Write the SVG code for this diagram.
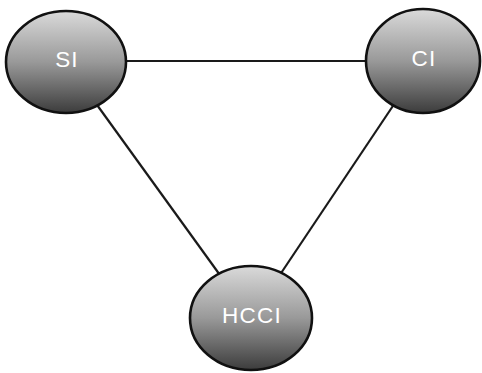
<svg xmlns="http://www.w3.org/2000/svg" width="482" height="373" viewBox="0 0 482 373">
  <style>
    .edge { stroke: #1a1a1a; stroke-width: 2.2; fill: none; }
    .node ellipse { fill: url(#shade); stroke: #111; stroke-width: 2.6; }
    .node text { font-family: "Liberation Sans", Arial, sans-serif; font-size: 22.5px; letter-spacing: 1.2px; fill: #ffffff; text-anchor: middle; dominant-baseline: central; }
  </style>
  <defs>
    <linearGradient id="shade" x1="0" y1="0" x2="0" y2="1">
      <stop offset="0" stop-color="#dadada"/>
      <stop offset="0.5" stop-color="#999999"/>
      <stop offset="1" stop-color="#3c3c3c"/>
    </linearGradient>
  </defs>
  <rect width="482" height="373" fill="#ffffff"/>
  <g id="connectors">
    <line class="edge" x1="66" y1="61" x2="423" y2="61"/>
    <line class="edge" x1="66" y1="62" x2="251" y2="318"/>
    <line class="edge" x1="423" y1="61" x2="251" y2="318"/>
  </g>
  <g id="node-si" class="node">
    <ellipse cx="66" cy="62" rx="60" ry="51"/>
    <text x="67" y="59">SI</text>
  </g>
  <g id="node-ci" class="node">
    <ellipse cx="423" cy="61" rx="57" ry="52"/>
    <text x="424" y="58">CI</text>
  </g>
  <g id="node-hcci" class="node">
    <ellipse cx="251" cy="318" rx="61" ry="52"/>
    <text x="252" y="315">HCCI</text>
  </g>
</svg>
